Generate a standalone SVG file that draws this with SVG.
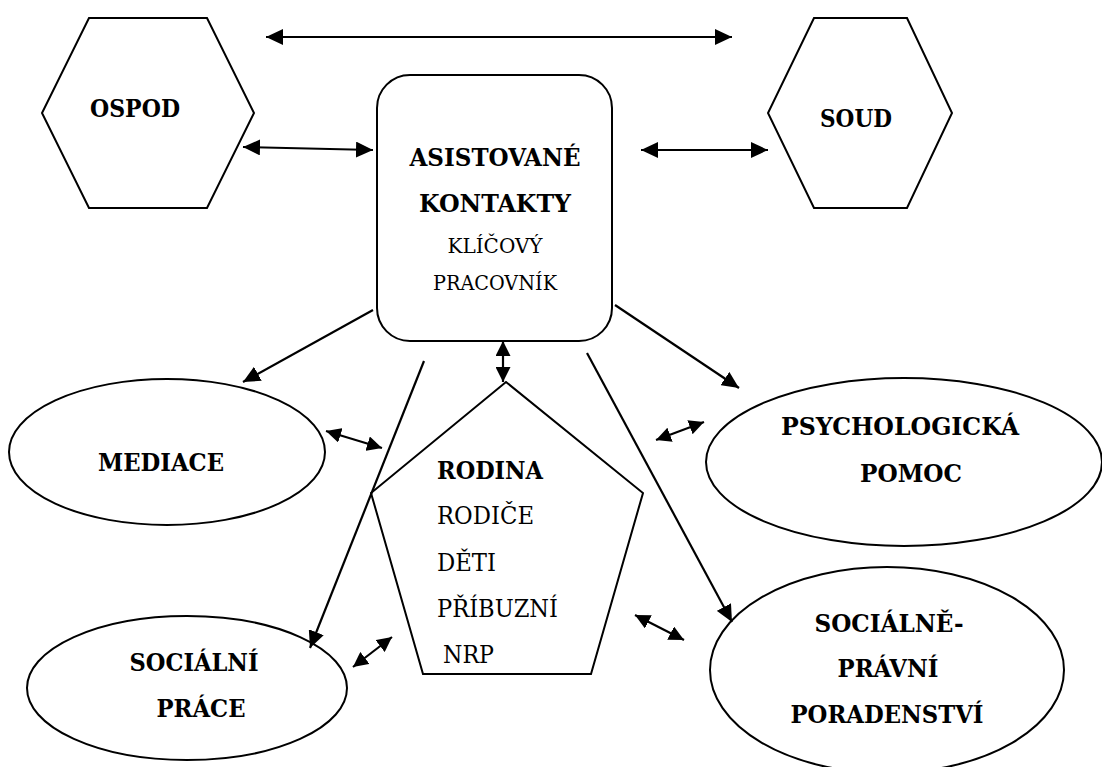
<svg xmlns="http://www.w3.org/2000/svg" width="1102" height="767" viewBox="0 0 1102 767">
<style>
.s{fill:#fff;stroke:#000;stroke-width:2}
.c{stroke:#000;stroke-width:2.2;fill:none}
text{font-family:"DejaVu Serif Condensed","DejaVu Serif","Liberation Serif",serif;fill:#000}
.b{font-weight:bold;font-size:25px}
.r{font-size:25px}
.m{font-size:20px}
</style>
<defs>
<marker id="a" markerUnits="userSpaceOnUse" markerWidth="18" markerHeight="16" refX="17" refY="8" orient="auto-start-reverse"><path d="M0,0 L17,8 L0,16 z" fill="#000"/></marker>
<marker id="a2" markerUnits="userSpaceOnUse" markerWidth="16" markerHeight="15" refX="15" refY="7.5" orient="auto-start-reverse"><path d="M0,0 L15,7.5 L0,15 z" fill="#000"/></marker>
</defs>
<rect width="1102" height="767" fill="#fff"/>
<g id="ospod">
<polygon class="s" points="89,18 207,18 254,113 207,208 89,208 42,113"/>
<text class="b" x="135" y="117" text-anchor="middle" textLength="90" lengthAdjust="spacingAndGlyphs">OSPOD</text>
</g>
<g id="soud">
<polygon class="s" points="814,18 907,18 952,113 907,208 814,208 768,113"/>
<text class="b" x="856" y="127" text-anchor="middle" textLength="72" lengthAdjust="spacingAndGlyphs">SOUD</text>
</g>
<g id="center">
<rect class="s" x="377" y="75" width="235" height="266" rx="33" ry="33"/>
<text class="b" x="495" y="166" text-anchor="middle" textLength="171" lengthAdjust="spacingAndGlyphs">ASISTOVANÉ</text>
<text class="b" x="495" y="212" text-anchor="middle" textLength="152" lengthAdjust="spacingAndGlyphs">KONTAKTY</text>
<text class="m" x="495" y="253" text-anchor="middle" textLength="95" lengthAdjust="spacingAndGlyphs">KLÍČOVÝ</text>
<text class="m" x="495" y="290" text-anchor="middle" textLength="124" lengthAdjust="spacingAndGlyphs">PRACOVNÍK</text>
</g>
<g id="mediace">
<ellipse class="s" cx="167" cy="452" rx="158" ry="73"/>
<text class="b" x="161" y="471" text-anchor="middle" textLength="126" lengthAdjust="spacingAndGlyphs">MEDIACE</text>
</g>
<g id="socialni-prace">
<ellipse class="s" cx="187" cy="688" rx="160" ry="72"/>
<text class="b" x="194" y="671" text-anchor="middle" textLength="129" lengthAdjust="spacingAndGlyphs">SOCIÁLNÍ</text>
<text class="b" x="201" y="717" text-anchor="middle" textLength="89" lengthAdjust="spacingAndGlyphs">PRÁCE</text>
</g>
<g id="psychologicka">
<ellipse class="s" cx="904" cy="462" rx="198" ry="84"/>
<text class="b" x="900" y="435" text-anchor="middle" textLength="238" lengthAdjust="spacingAndGlyphs">PSYCHOLOGICKÁ</text>
<text class="b" x="911" y="482" text-anchor="middle" textLength="102" lengthAdjust="spacingAndGlyphs">POMOC</text>
</g>
<g id="socialne-pravni">
<ellipse class="s" cx="887" cy="670" rx="177" ry="103"/>
<text class="b" x="889" y="632" text-anchor="middle" textLength="149" lengthAdjust="spacingAndGlyphs">SOCIÁLNĚ-</text>
<text class="b" x="888" y="677" text-anchor="middle" textLength="101" lengthAdjust="spacingAndGlyphs">PRÁVNÍ</text>
<text class="b" x="887" y="723" text-anchor="middle" textLength="193" lengthAdjust="spacingAndGlyphs">PORADENSTVÍ</text>
</g>
<g id="rodina">
<polygon class="s" points="506,382 643,493 591,674 423,674 371,493"/>
<text class="b" x="437" y="479" textLength="106" lengthAdjust="spacingAndGlyphs">RODINA</text>
<text class="r" x="437" y="524" textLength="97" lengthAdjust="spacingAndGlyphs">RODIČE</text>
<text class="r" x="437" y="571" textLength="59" lengthAdjust="spacingAndGlyphs">DĚTI</text>
<text class="r" x="437" y="617" textLength="121" lengthAdjust="spacingAndGlyphs">PŘÍBUZNÍ</text>
<text class="r" x="443" y="663" textLength="51" lengthAdjust="spacingAndGlyphs">NRP</text>
</g>
<g id="connectors">
<line class="c" x1="266" y1="37" x2="732" y2="37" marker-start="url(#a)" marker-end="url(#a)"/>
<line class="c" x1="243" y1="147" x2="373" y2="150" marker-start="url(#a)" marker-end="url(#a)"/>
<line class="c" x1="641" y1="150" x2="768" y2="150" marker-start="url(#a)" marker-end="url(#a)"/>
<line class="c" x1="373" y1="310" x2="243" y2="382" marker-end="url(#a)"/>
<line class="c" x1="615" y1="305" x2="739" y2="388" marker-end="url(#a)"/>
<line class="c" x1="424" y1="361" x2="310" y2="648" marker-end="url(#a)"/>
<line class="c" x1="587" y1="353" x2="732" y2="622" marker-end="url(#a)"/>
<line class="c" x1="503" y1="341" x2="503" y2="382" marker-start="url(#a2)" marker-end="url(#a2)"/>
<line class="c" x1="326" y1="431" x2="382" y2="448" marker-start="url(#a2)" marker-end="url(#a2)"/>
<line class="c" x1="353" y1="667" x2="392" y2="637" marker-start="url(#a2)" marker-end="url(#a2)"/>
<line class="c" x1="656" y1="440" x2="704" y2="422" marker-start="url(#a2)" marker-end="url(#a2)"/>
<line class="c" x1="635" y1="615" x2="684" y2="640" marker-start="url(#a2)" marker-end="url(#a2)"/>
</g>
</svg>
